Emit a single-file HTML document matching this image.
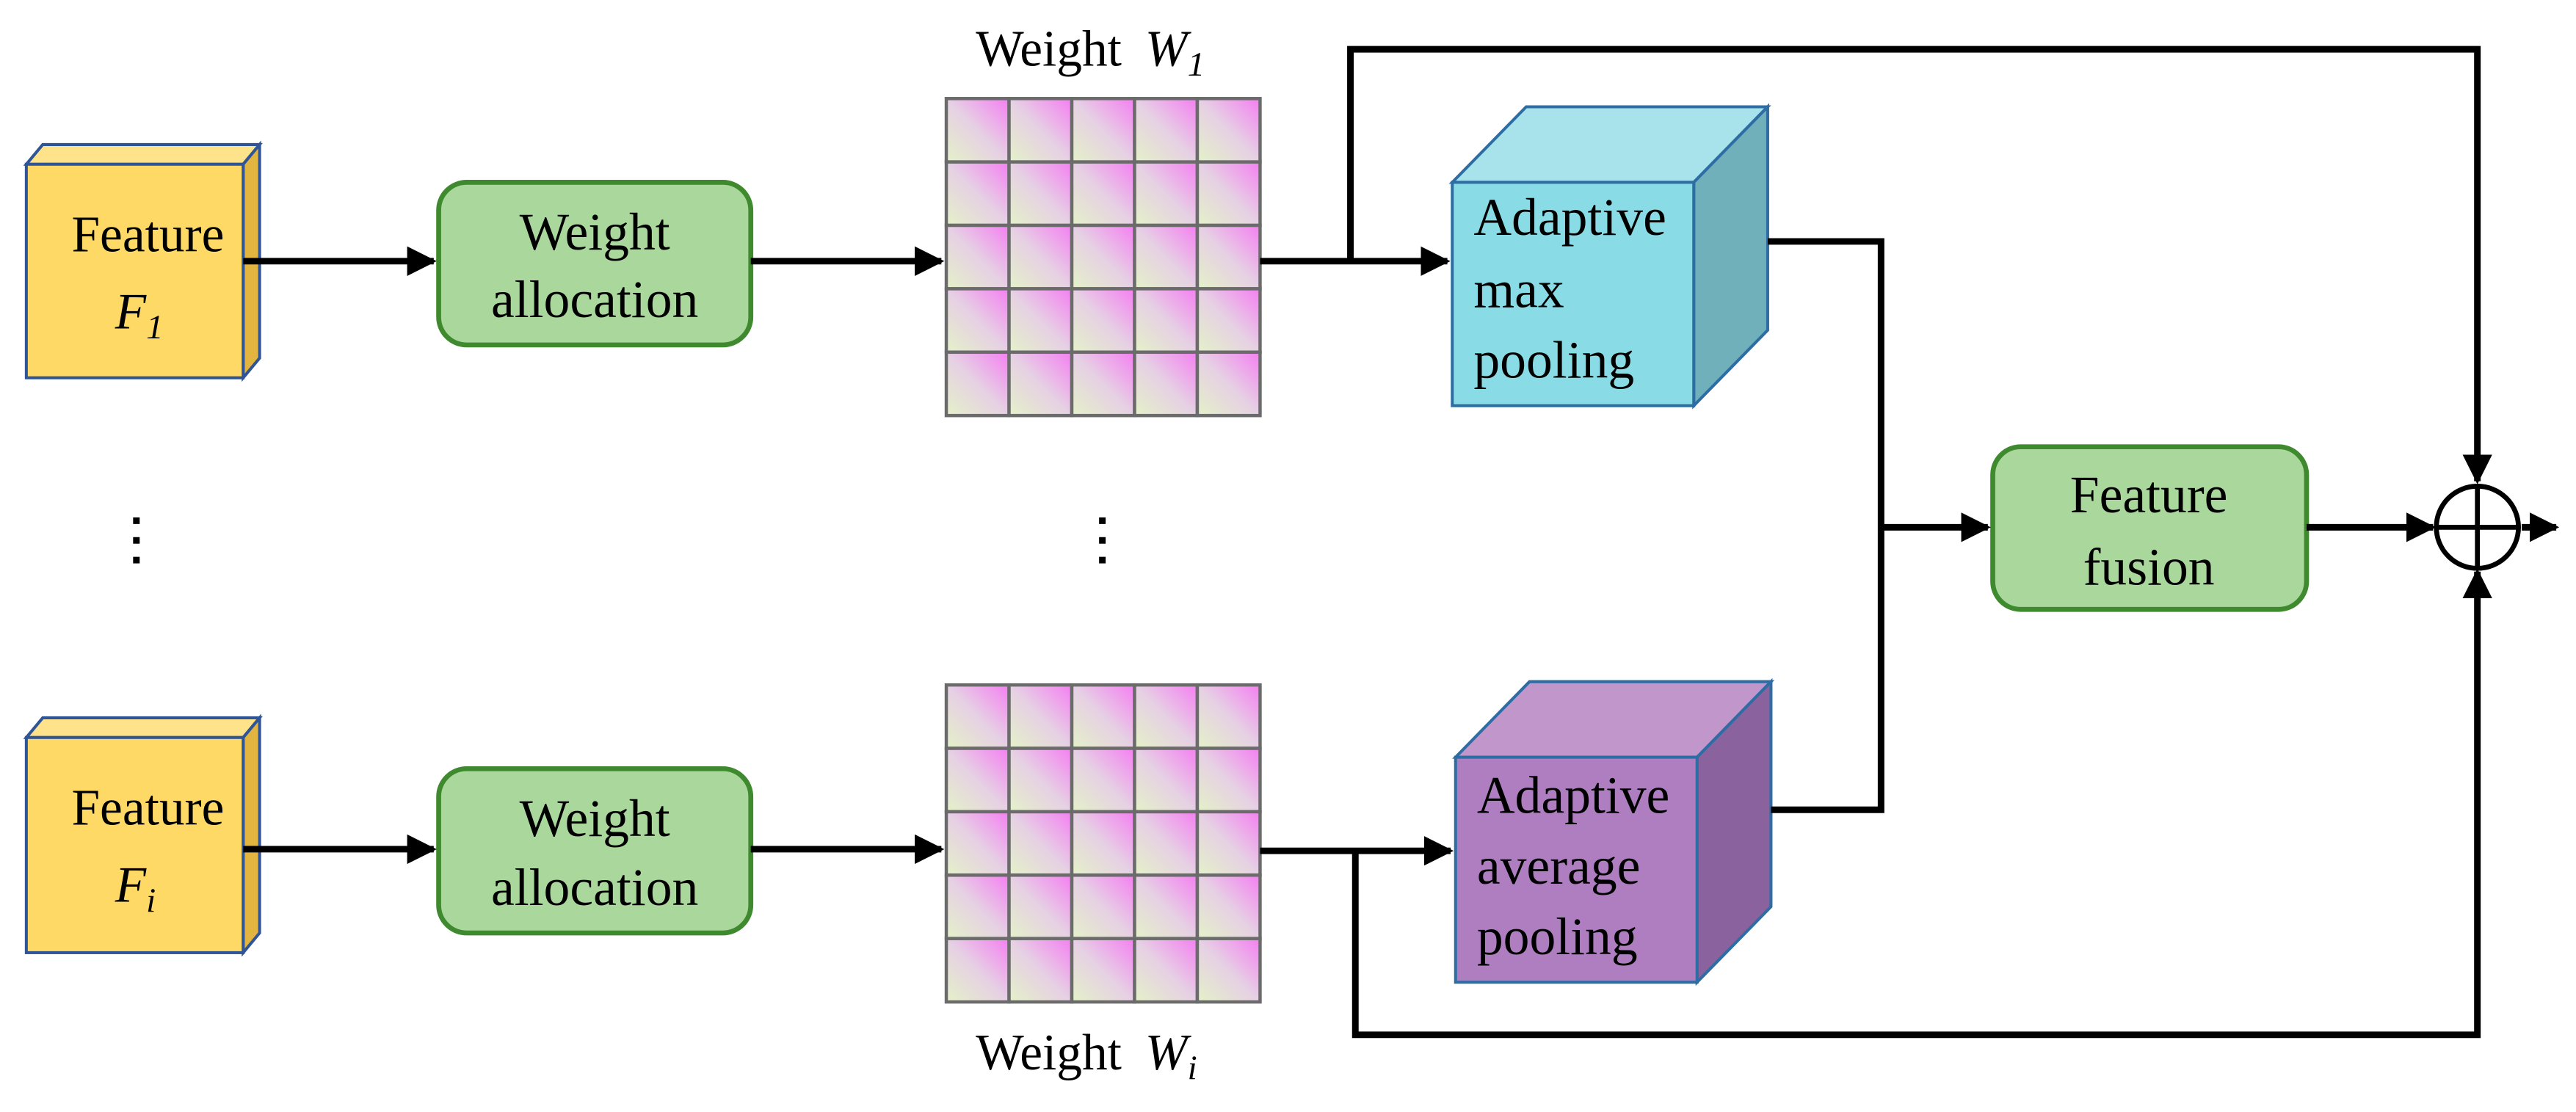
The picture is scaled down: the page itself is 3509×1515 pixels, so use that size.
<!DOCTYPE html>
<html><head><meta charset="utf-8"><style>
html,body{margin:0;padding:0;background:#fff;}
svg{display:block;}
svg text{font-family:"Liberation Serif","Times New Roman",Times,"DejaVu Serif",serif;}
</style></head><body>
<svg width="3509" height="1515" viewBox="0 0 1568 677" xmlns="http://www.w3.org/2000/svg">
<defs>
<linearGradient id="cg" x1="0" y1="1" x2="1" y2="0">
<stop offset="0" stop-color="#E4F2C8"/><stop offset="0.5" stop-color="#E6D0E4"/><stop offset="1" stop-color="#F57EF2"/>
</linearGradient>
<marker id="ah" viewBox="0 0 10 10" refX="9" refY="5" markerWidth="4.5" markerHeight="4.5" orient="auto" markerUnits="strokeWidth">
<path d="M0,0 L10,5 L0,10 z" fill="#000"/></marker>
</defs>

<g stroke="#2F5597" stroke-width="1.8">
<polygon points="16,100 26,88 158,88 148,100" fill="#FFE38A"/>
<polygon points="148,100 158,88 158,218 148,230" fill="#E2B440"/>
<rect x="16" y="100" width="132" height="130" fill="#FFD966"/>
<polygon points="16,449 26,437 158,437 148,449" fill="#FFE38A"/>
<polygon points="148,449 158,437 158,568 148,580" fill="#E2B440"/>
<rect x="16" y="449" width="132" height="131" fill="#FFD966"/>
</g>
<text x="90" y="153" font-size="31" text-anchor="middle">Feature</text>
<text x="70" y="200" font-size="31" font-style="italic">F<tspan font-size="21" dy="6">1</tspan></text>
<text x="90" y="502" font-size="31" text-anchor="middle">Feature</text>
<text x="70" y="549" font-size="31" font-style="italic">F<tspan font-size="21" dy="6">i</tspan></text>

<g fill="#A9D79C" stroke="#3F8A2E" stroke-width="3">
<rect x="267" y="111" width="190" height="99" rx="17"/>
<rect x="267" y="468" width="190" height="100" rx="17"/>
<rect x="1213" y="272" width="191" height="99" rx="17"/>
</g>
<g font-size="32" text-anchor="middle">
<text x="362" y="152">Weight</text><text x="362" y="193">allocation</text>
<text x="362" y="509">Weight</text><text x="362" y="551">allocation</text>
<text x="1308" y="312">Feature</text><text x="1308" y="356">fusion</text>
</g>

<g stroke="#6b6b6b" stroke-width="2" fill="url(#cg)">
<rect x="576" y="60" width="38.2" height="38.6"/><rect x="614.2" y="60" width="38.2" height="38.6"/><rect x="652.4" y="60" width="38.2" height="38.6"/><rect x="690.6" y="60" width="38.2" height="38.6"/><rect x="728.8" y="60" width="38.2" height="38.6"/>
<rect x="576" y="98.6" width="38.2" height="38.6"/><rect x="614.2" y="98.6" width="38.2" height="38.6"/><rect x="652.4" y="98.6" width="38.2" height="38.6"/><rect x="690.6" y="98.6" width="38.2" height="38.6"/><rect x="728.8" y="98.6" width="38.2" height="38.6"/>
<rect x="576" y="137.2" width="38.2" height="38.6"/><rect x="614.2" y="137.2" width="38.2" height="38.6"/><rect x="652.4" y="137.2" width="38.2" height="38.6"/><rect x="690.6" y="137.2" width="38.2" height="38.6"/><rect x="728.8" y="137.2" width="38.2" height="38.6"/>
<rect x="576" y="175.8" width="38.2" height="38.6"/><rect x="614.2" y="175.8" width="38.2" height="38.6"/><rect x="652.4" y="175.8" width="38.2" height="38.6"/><rect x="690.6" y="175.8" width="38.2" height="38.6"/><rect x="728.8" y="175.8" width="38.2" height="38.6"/>
<rect x="576" y="214.4" width="38.2" height="38.6"/><rect x="614.2" y="214.4" width="38.2" height="38.6"/><rect x="652.4" y="214.4" width="38.2" height="38.6"/><rect x="690.6" y="214.4" width="38.2" height="38.6"/><rect x="728.8" y="214.4" width="38.2" height="38.6"/>
<rect x="576" y="417" width="38.2" height="38.6"/><rect x="614.2" y="417" width="38.2" height="38.6"/><rect x="652.4" y="417" width="38.2" height="38.6"/><rect x="690.6" y="417" width="38.2" height="38.6"/><rect x="728.8" y="417" width="38.2" height="38.6"/>
<rect x="576" y="455.6" width="38.2" height="38.6"/><rect x="614.2" y="455.6" width="38.2" height="38.6"/><rect x="652.4" y="455.6" width="38.2" height="38.6"/><rect x="690.6" y="455.6" width="38.2" height="38.6"/><rect x="728.8" y="455.6" width="38.2" height="38.6"/>
<rect x="576" y="494.2" width="38.2" height="38.6"/><rect x="614.2" y="494.2" width="38.2" height="38.6"/><rect x="652.4" y="494.2" width="38.2" height="38.6"/><rect x="690.6" y="494.2" width="38.2" height="38.6"/><rect x="728.8" y="494.2" width="38.2" height="38.6"/>
<rect x="576" y="532.8" width="38.2" height="38.6"/><rect x="614.2" y="532.8" width="38.2" height="38.6"/><rect x="652.4" y="532.8" width="38.2" height="38.6"/><rect x="690.6" y="532.8" width="38.2" height="38.6"/><rect x="728.8" y="532.8" width="38.2" height="38.6"/>
<rect x="576" y="571.4" width="38.2" height="38.6"/><rect x="614.2" y="571.4" width="38.2" height="38.6"/><rect x="652.4" y="571.4" width="38.2" height="38.6"/><rect x="690.6" y="571.4" width="38.2" height="38.6"/><rect x="728.8" y="571.4" width="38.2" height="38.6"/>
</g>
<text x="594" y="40" font-size="31">Weight</text>
<text x="697" y="40" font-size="31" font-style="italic">W<tspan font-size="21" dy="6">1</tspan></text>
<text x="594" y="651" font-size="31">Weight</text>
<text x="697" y="651" font-size="31" font-style="italic">W<tspan font-size="21" dy="6">i</tspan></text>

<g fill="#000">
<rect x="81" y="315" width="4" height="4"/><rect x="81" y="327" width="4" height="4"/><rect x="81" y="339" width="4" height="4"/>
<rect x="669" y="315" width="4" height="4"/><rect x="669" y="327" width="4" height="4"/><rect x="669" y="339" width="4" height="4"/>
</g>

<g stroke="#2E6DA4" stroke-width="1.8">
<polygon points="884,111 929,65 1076,65 1031,111" fill="#A8E2EA"/>
<polygon points="1031,111 1076,65 1076,201 1031,247" fill="#6FB0BB"/>
<rect x="884" y="111" width="147" height="136" fill="#89DCE5"/>
<polygon points="886,461 931,415 1078,415 1033,461" fill="#C096CB"/>
<polygon points="1033,461 1078,415 1078,552 1033,598" fill="#8A629D"/>
<rect x="886" y="461" width="147" height="137" fill="#AE7EC0"/>
</g>
<g font-size="32">
<text x="897" y="143">Adaptive</text><text x="897" y="187">max</text><text x="897" y="230">pooling</text>
<text x="899" y="495">Adaptive</text><text x="899" y="538">average</text><text x="899" y="581">pooling</text>
</g>

<g stroke="#000" stroke-width="4" fill="none">
<line x1="148" y1="159" x2="264" y2="159" marker-end="url(#ah)"/>
<line x1="457" y1="159" x2="573" y2="159" marker-end="url(#ah)"/>
<line x1="148" y1="517" x2="264" y2="517" marker-end="url(#ah)"/>
<line x1="457" y1="517" x2="573" y2="517" marker-end="url(#ah)"/>
<line x1="767" y1="159" x2="881" y2="159" marker-end="url(#ah)"/>
<line x1="767" y1="518" x2="883" y2="518" marker-end="url(#ah)"/>
<polyline points="822,159 822,30 1508,30 1508,293" marker-end="url(#ah)"/>
<polyline points="825,518 825,630 1508,630 1508,348" marker-end="url(#ah)"/>
<polyline points="1076,147 1145,147 1145,493 1078,493"/>
<line x1="1145" y1="321" x2="1210" y2="321" marker-end="url(#ah)"/>
<line x1="1404" y1="321" x2="1481" y2="321" marker-end="url(#ah)"/>
<line x1="1535" y1="321" x2="1556" y2="321" marker-end="url(#ah)"/>
<circle cx="1508" cy="321" r="25" stroke-width="3"/>
<line x1="1483" y1="321" x2="1533" y2="321" stroke-width="3"/>
<line x1="1508" y1="296" x2="1508" y2="346" stroke-width="3"/>
</g>
</svg>
</body></html>
